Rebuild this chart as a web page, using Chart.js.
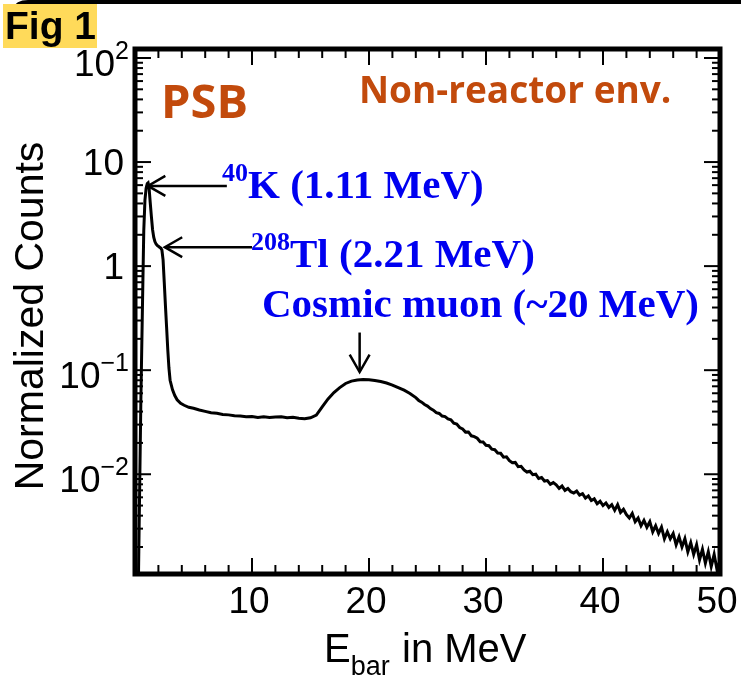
<!DOCTYPE html>
<html>
<head>
<meta charset="utf-8">
<script src="https://cdn.jsdelivr.net/npm/chart.js@4.4.0/dist/chart.umd.min.js"></script>
<style>
    html, body { margin: 0; padding: 0; background: #fff; }
    canvas { display: block; }
</style>
</head>
<body>
<canvas id="graficoEspectro" width="741" height="677"></canvas>
<script>
// ==================== DATOS ====================
const energia = [
    0.3, 0.5, 0.65, 0.75, 0.85, 0.95, 1.05, 1.12, 1.2, 1.3, 1.4, 1.5, 1.6, 1.7, 1.8, 1.9, 2.0,
    2.1, 2.2, 2.3, 2.4, 2.5, 2.6, 2.7, 2.8, 2.9, 3.0, 3.2, 3.4, 3.6, 3.9, 4.2, 4.6,
    5.0, 5.5, 6.0, 6.5, 7.0, 7.5, 8.0, 8.5, 9.0, 9.5, 10.0, 10.5, 11.0, 11.5, 12.0, 12.5,
    13.0, 13.5, 14.0, 14.5, 15.0, 15.5, 16.0, 16.5, 17.0, 17.5, 18.0, 18.5, 19.0, 19.5,
    20.0, 20.5, 21.0, 21.5, 22.0, 22.5, 23.0, 23.5,
    24.0, 24.25, 24.5, 24.75, 25.0, 25.25, 25.5, 25.75, 26.0, 26.25, 26.5, 26.75,
    27.0, 27.25, 27.5, 27.75, 28.0, 28.25, 28.5, 28.75, 29.0, 29.25, 29.5, 29.75,
    30.0, 30.25, 30.5, 30.75, 31.0, 31.25, 31.5, 31.75, 32.0, 32.25, 32.5, 32.75,
    33.0, 33.25, 33.5, 33.75, 34.0, 34.25, 34.5, 34.75, 35.0, 35.25, 35.5, 35.75,
    36.0, 36.25, 36.5, 36.75, 37.0, 37.25, 37.5, 37.75, 38.0, 38.25, 38.5, 38.75,
    39.0, 39.25, 39.5, 39.75, 40.0, 40.25, 40.5, 40.75, 41.0, 41.25, 41.5, 41.75,
    42.0, 42.25, 42.5, 42.75, 43.0, 43.25, 43.5, 43.75, 44.0, 44.25, 44.5, 44.75,
    45.0, 45.25, 45.5, 45.75, 46.0, 46.25, 46.5, 46.75, 47.0, 47.25, 47.5, 47.75,
    48.0, 48.25, 48.5, 48.75, 49.0, 49.25, 49.5, 49.75, 50.0
];
const cuentas = [
    0.0011, 0.05, 0.5, 2.2, 4.3, 5.6, 6.2, 6.3, 5.7, 4.1, 3.0, 2.25, 1.9, 1.72, 1.63, 1.58, 1.55,
    1.52, 1.49, 1.43, 1.15, 0.70, 0.42, 0.26, 0.158, 0.105, 0.080, 0.065, 0.057, 0.052, 0.048, 0.046, 0.044,
    0.043, 0.0415, 0.0402, 0.039, 0.0385, 0.0376, 0.0372, 0.0364, 0.0362, 0.0357, 0.0359, 0.0352, 0.0357, 0.0351, 0.0355, 0.0357,
    0.0349, 0.0353, 0.0345, 0.0341, 0.0349, 0.037, 0.0445, 0.053, 0.061, 0.068, 0.0745, 0.0785, 0.0805, 0.0815,
    0.0808, 0.0795, 0.0778, 0.0752, 0.072, 0.068, 0.0642, 0.0598,
    0.0545, 0.0512, 0.0493, 0.0468, 0.0452, 0.0428, 0.0413, 0.0391, 0.0384, 0.0362, 0.0358, 0.0340,
    0.0334, 0.0309, 0.0303, 0.0281, 0.0272, 0.0254, 0.0255, 0.0234, 0.0230, 0.0222, 0.0205, 0.0204,
    0.0190, 0.0188, 0.0174, 0.0172, 0.0160, 0.0159, 0.0146, 0.0147, 0.0135, 0.0129, 0.0130, 0.0118,
    0.0119, 0.0110, 0.0105, 0.0107, 0.0099, 0.0100, 0.0091, 0.0093, 0.0086, 0.0087, 0.0080, 0.0083,
    0.0079, 0.0073, 0.0077, 0.0070, 0.0073, 0.0068, 0.0066, 0.0069, 0.0063, 0.0065, 0.0059, 0.0062,
    0.0056, 0.0058, 0.0052, 0.0055, 0.0050, 0.0053, 0.0048, 0.0051, 0.0045, 0.0051, 0.0043, 0.0046,
    0.0041, 0.0038, 0.0042, 0.0035, 0.0038, 0.0032, 0.0036, 0.0031, 0.0035, 0.0028, 0.0032, 0.0027,
    0.0031, 0.0024, 0.0028, 0.0024, 0.0027, 0.0021, 0.0025, 0.0020, 0.0024, 0.0018, 0.0022, 0.0017,
    0.0021, 0.0015, 0.0019, 0.0014, 0.0018, 0.0013, 0.0017, 0.0012, 0.0015
];

// ejes
const xMin = 0, xMax = 50;
const yMin = 0.0011, yMax = 122;
const xTicksMayores = [10, 20, 30, 40, 50];
const xEtiquetas = ['10', '20', '30', '40', '50'];
const xPasoMenor = 2;
const yTicksMayores = [0.01, 0.1, 1, 10, 100];
const yEtiquetasBase = ['10', '10', '1', '10', '10'];
const yEtiquetasExp = ['\u22122', '\u22121', '', '', '2'];

// anotaciones (en unidades de datos)
const flechaK = { desde: [7.85, 5.9], hasta: [1.11, 5.9] };
const flechaTl = { desde: [10.0, 1.52], hasta: [2.55, 1.52] };
const flechaMuon = { desde: [19.2, 0.23], hasta: [19.2, 0.096] };

// ==================== UTILIDADES DE DIBUJO ====================
function linea(c, x1, y1, x2, y2) {
    c.beginPath();
    c.moveTo(x1, y1);
    c.lineTo(x2, y2);
    c.stroke();
}

function flecha(c, x1, y1, x2, y2) {
    linea(c, x1, y1, x2, y2);
    const ang = Math.atan2(y2 - y1, x2 - x1);
    const largo = 20, abre = 0.52;
    c.beginPath();
    c.moveTo(x2 - largo * Math.cos(ang - abre), y2 - largo * Math.sin(ang - abre));
    c.lineTo(x2, y2);
    c.lineTo(x2 - largo * Math.cos(ang + abre), y2 - largo * Math.sin(ang + abre));
    c.stroke();
}

function textoConSuperindice(c, sup, texto, x, base, tamSup, tamTexto) {
    c.font = 'bold ' + tamSup + 'px "Liberation Serif"';
    c.fillText(sup, x, base - tamTexto * 0.42);
    const ancho = c.measureText(sup).width;
    c.font = 'bold ' + tamTexto + 'px "Liberation Serif"';
    c.fillText(texto, x + ancho, base);
}

// ==================== PLUGIN: MARCO, EJES Y TEXTOS ====================
const pluginMarco = {
    id: 'marcoRoot',
    beforeDraw(chart) {
        const c = chart.ctx;
        c.save();
        c.fillStyle = '#fff';
        c.fillRect(0, 0, chart.width, chart.height);
        // borde superior de la tarjeta
        c.strokeStyle = '#000';
        c.lineWidth = 4;
        c.beginPath();
        c.moveTo(14, 10);
        c.quadraticCurveTo(17, 2, 28, 2);
        c.lineTo(741, 2);
        c.stroke();
        // etiqueta Fig 1
        c.fillStyle = '#FFDA5A';
        c.fillRect(3, 4, 94, 44);
        c.fillStyle = '#000';
        c.font = 'bold 39px "Liberation Sans"';
        c.textBaseline = 'alphabetic';
        c.fillText('Fig 1', 5, 39);
        c.restore();
    },
    afterDatasetsDraw(chart) {
        const c = chart.ctx;
        const a = chart.chartArea;
        const sx = chart.scales.x;
        const sy = chart.scales.y;
        c.save();
        c.strokeStyle = '#000';
        c.fillStyle = '#000';

        // ticks eje X (abajo y arriba)
        c.lineWidth = 2;
        for (let v = xMin + xPasoMenor; v < xMax; v += xPasoMenor) {
            const px = sx.getPixelForValue(v);
            const largo = xTicksMayores.includes(v) ? 16 : 9;
            linea(c, px, a.bottom, px, a.bottom - largo);
            linea(c, px, a.top, px, a.top + largo);
        }

        // ticks eje Y (izquierda y derecha)
        for (let d = -3; d <= 2; d++) {
            for (let m = 1; m <= 9; m++) {
                const v = m * Math.pow(10, d);
                if (v < yMin || v > yMax) continue;
                const py = sy.getPixelForValue(v);
                const largo = m === 1 ? 16 : 8;
                linea(c, a.left, py, a.left + largo, py);
                linea(c, a.right, py, a.right - largo, py);
            }
        }

        // marco
        c.lineWidth = 5;
        c.strokeRect(a.left, a.top, a.right - a.left, a.bottom - a.top);

        // etiquetas eje X
        c.font = '37px "Liberation Sans"';
        c.textAlign = 'center';
        c.textBaseline = 'alphabetic';
        xTicksMayores.forEach((v, i) => {
            c.fillText(xEtiquetas[i], sx.getPixelForValue(v) - 3, 613);
        });

        // etiquetas eje Y
        c.textAlign = 'right';
        yTicksMayores.forEach((v, i) => {
            const py = sy.getPixelForValue(v);
            const exp = yEtiquetasExp[i];
            if (exp) {
                c.font = '25px "Liberation Sans"';
                c.fillText(exp, 129, py + 1);
                const w = c.measureText(exp).width;
                c.font = '37px "Liberation Sans"';
                c.fillText(yEtiquetasBase[i], 129 - w, py + 18);
            } else {
                c.font = '37px "Liberation Sans"';
                c.fillText(yEtiquetasBase[i], 124, py + 13);
            }
        });

        // titulos de ejes
        c.textAlign = 'left';
        c.font = '40px "Liberation Sans"';
        c.fillText('E', 324, 662);
        const wE = c.measureText('E').width;
        c.font = '27px "Liberation Sans"';
        c.fillText('bar', 324 + wE, 675);
        c.font = '40px "Liberation Sans"';
        c.fillText('in MeV', 402, 662);

        c.save();
        c.translate(43, 316);
        c.rotate(-Math.PI / 2);
        c.textAlign = 'center';
        c.font = '41px "Liberation Sans"';
        c.fillText('Normalized Counts', 0, 0);
        c.restore();

        // textos naranja
        c.fillStyle = '#C24A0C';
        c.textAlign = 'left';
        c.font = 'bold 47px "Open Sans"';
        c.fillText('PSB', 161, 118);
        c.font = 'bold 37px "Open Sans"';
        c.fillText('Non-reactor env.', 359, 103);

        // flechas
        c.lineWidth = 2.5;
        [flechaK, flechaTl, flechaMuon].forEach(f => {
            flecha(c,
                sx.getPixelForValue(f.desde[0]), sy.getPixelForValue(f.desde[1]),
                sx.getPixelForValue(f.hasta[0]), sy.getPixelForValue(f.hasta[1]));
        });

        // textos azules
        c.fillStyle = '#0000F0';
        textoConSuperindice(c, '40', 'K (1.11 MeV)', 222, 198, 26, 41);
        textoConSuperindice(c, '208', 'Tl (2.21 MeV)', 251, 267, 26, 41);
        c.font = 'bold 41px "Liberation Serif"';
        c.fillText('Cosmic muon (~20 MeV)', 262, 317);

        c.restore();
    }
};

// ==================== CREAR GRÁFICO ====================
const puntos = energia.map((e, i) => ({ x: e, y: cuentas[i] }));

const graficoEspectro = new Chart(document.getElementById('graficoEspectro'), {
    type: 'line',
    data: {
        datasets: [{
            label: 'PSB',
            data: puntos,
            borderColor: '#000',
            borderWidth: 3,
            pointRadius: 0,
            tension: 0,
            fill: false
        }]
    },
    options: {
        responsive: false,
        animation: false,
        layout: {
            padding: { left: 135, right: 21, top: 49, bottom: 103 }
        },
        plugins: {
            legend: { display: false },
            tooltip: { enabled: false }
        },
        scales: {
            x: { type: 'linear', min: xMin, max: xMax, display: false },
            y: { type: 'logarithmic', min: yMin, max: yMax, display: false }
        }
    },
    plugins: [pluginMarco]
});
</script>
</body>
</html>
